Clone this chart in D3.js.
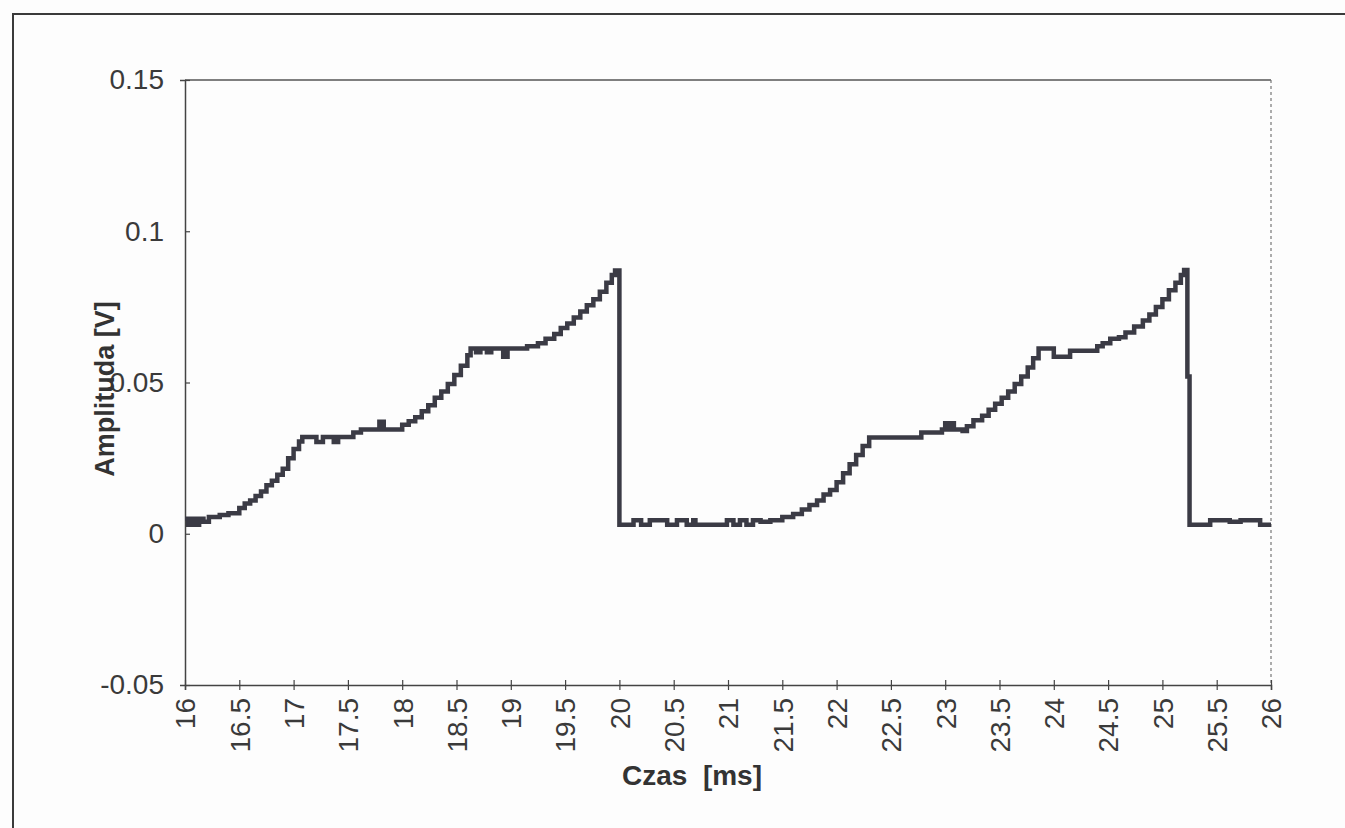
<!DOCTYPE html>
<html>
<head>
<meta charset="utf-8">
<script src="https://cdn.jsdelivr.net/npm/d3@7"></script>
<style>
  body { margin: 0; background: #fdfdfd; }
  svg { display: block; font-family: "Liberation Sans", Arial, sans-serif; }
</style>
</head>
<body>
<div id="chart"></div>
<script>
// czas [ms] i amplituda [V] (schodki przetwornika)
var timeMs = [
  16.00, 16.03, 16.06, 16.10, 16.13, 16.17, 16.22, 16.32, 16.40, 16.50,
  16.55, 16.60, 16.65, 16.70, 16.75, 16.80, 16.85, 16.90, 16.95, 17.00,
  17.05, 17.08, 17.21, 17.27, 17.37, 17.41, 17.55, 17.62, 17.79, 17.83,
  18.00, 18.06, 18.12, 18.18, 18.24, 18.30, 18.36, 18.42, 18.48, 18.54,
  18.60, 18.63, 18.68, 18.72, 18.78, 18.82, 18.93, 18.97, 19.15, 19.25,
  19.32, 19.40, 19.46, 19.52, 19.58, 19.64, 19.70, 19.76, 19.82, 19.88,
  19.93, 19.96, 20.00, 20.13, 20.20, 20.28, 20.44, 20.53, 20.62, 20.68,
  20.70, 20.99, 21.05, 21.11, 21.17, 21.23, 21.30, 21.39, 21.42, 21.50,
  21.60, 21.68, 21.75, 21.82, 21.88, 21.94, 22.00, 22.06, 22.12, 22.18,
  22.24, 22.30, 22.78, 22.97, 23.00, 23.02, 23.05, 23.08, 23.16, 23.20,
  23.26, 23.34, 23.40, 23.46, 23.52, 23.58, 23.64, 23.70, 23.76, 23.81,
  23.86, 24.00, 24.15, 24.40, 24.45, 24.52, 24.60, 24.66, 24.74, 24.82,
  24.88, 24.94, 25.00, 25.06, 25.12, 25.17, 25.20, 25.23, 25.25, 25.44,
  25.62, 25.72, 25.90, 26.00
];
var amplitudeV = [
  0.0050, 0.0030, 0.0050, 0.0030, 0.0050, 0.0040, 0.0055, 0.0062, 0.0068, 0.0085,
  0.0100, 0.0110, 0.0125, 0.0140, 0.0160, 0.0175, 0.0195, 0.0215, 0.0250, 0.0280,
  0.0305, 0.0320, 0.0303, 0.0320, 0.0303, 0.0320, 0.0335, 0.0345, 0.0370, 0.0345,
  0.0360, 0.0372, 0.0385, 0.0405, 0.0425, 0.0450, 0.0470, 0.0495, 0.0525, 0.0555,
  0.0590, 0.0612, 0.0600, 0.0612, 0.0600, 0.0612, 0.0585, 0.0612, 0.0620, 0.0630,
  0.0645, 0.0660, 0.0680, 0.0695, 0.0715, 0.0735, 0.0755, 0.0775, 0.0800, 0.0830,
  0.0855, 0.0870, 0.0030, 0.0045, 0.0030, 0.0045, 0.0030, 0.0045, 0.0030, 0.0045,
  0.0030, 0.0045, 0.0030, 0.0045, 0.0030, 0.0045, 0.0040, 0.0045, 0.0045, 0.0055,
  0.0065, 0.0080, 0.0095, 0.0110, 0.0130, 0.0145, 0.0170, 0.0200, 0.0230, 0.0260,
  0.0290, 0.0318, 0.0335, 0.0345, 0.0365, 0.0345, 0.0365, 0.0345, 0.0340, 0.0355,
  0.0375, 0.0390, 0.0410, 0.0430, 0.0450, 0.0470, 0.0495, 0.0520, 0.0550, 0.0580,
  0.0612, 0.0585, 0.0605, 0.0620, 0.0630, 0.0645, 0.0650, 0.0665, 0.0685, 0.0705,
  0.0725, 0.0750, 0.0775, 0.0805, 0.0830, 0.0855, 0.0872, 0.0520, 0.0030, 0.0045,
  0.0040, 0.0045, 0.0030, 0.0030
];
var xTicks = [16, 16.5, 17, 17.5, 18, 18.5, 19, 19.5, 20, 20.5, 21, 21.5, 22, 22.5, 23, 23.5, 24, 24.5, 25, 25.5, 26];
var yTicks = [-0.05, 0, 0.05, 0.1, 0.15];

var W = 1345, H = 828;
var margin = { left: 185, right: W - 1271, top: 80, bottom: H - 685 };
var tickFont = 28;

var svg = d3.select("#chart").append("svg")
    .attr("width", W).attr("height", H);

// ramka zewnetrzna
svg.append("rect")
    .attr("x", 13).attr("y", 14)
    .attr("width", W).attr("height", H)
    .attr("fill", "none").attr("stroke", "#3a3a3a").attr("stroke-width", 2);

var x = d3.scaleLinear().domain([16, 26]).range([margin.left, W - margin.right]);
var y = d3.scaleLinear().domain([-0.05, 0.15]).range([H - margin.bottom, margin.top]);

// obszar wykresu: gorna krawedz i prawa (przerywana)
svg.append("line")
    .attr("x1", x(16)).attr("x2", x(26)).attr("y1", y(0.15)).attr("y2", y(0.15))
    .attr("stroke", "#555").attr("stroke-width", 1.5);
svg.append("line")
    .attr("x1", x(26)).attr("x2", x(26)).attr("y1", y(0.15)).attr("y2", y(-0.05))
    .attr("stroke", "#777").attr("stroke-width", 1.2).attr("stroke-dasharray", "3,3");

// os Y z krzyzykami
var yAxis = svg.append("g")
    .attr("transform", "translate(" + x(16) + ",0)")
    .call(d3.axisLeft(y).tickValues(yTicks).tickSize(5).tickPadding(16)
      .tickFormat(function(d) { return String(+d.toFixed(2)); }));
yAxis.selectAll(".tick line").attr("x2", 5);
yAxis.select(".domain").attr("stroke", "#444").attr("stroke-width", 1.5);
yAxis.selectAll(".tick line").attr("stroke", "#444").attr("stroke-width", 1.2);
yAxis.selectAll(".tick text")
    .attr("font-size", tickFont).attr("fill", "#3a3a3a")
    .attr("font-family", "Liberation Sans, Arial, sans-serif");

// os X z krzyzykami
var xAxis = svg.append("g")
    .attr("transform", "translate(0," + y(-0.05) + ")")
    .call(d3.axisBottom(x).tickValues(xTicks).tickSize(5).tickFormat(d3.format("")));
xAxis.selectAll(".tick line").attr("y1", -5);
xAxis.select(".domain").attr("stroke", "#444").attr("stroke-width", 1.5);
xAxis.selectAll(".tick line").attr("stroke", "#444").attr("stroke-width", 1.2);
xAxis.selectAll(".tick text")
    .attr("font-size", tickFont).attr("fill", "#3a3a3a")
    .attr("font-family", "Liberation Sans, Arial, sans-serif")
    .attr("transform", "rotate(-90)")
    .attr("text-anchor", "end")
    .attr("x", -13).attr("y", 0).attr("dy", "0.35em");

// sygnal
var pts = timeMs.map(function(t, i) { return [t, amplitudeV[i]]; });
var line = d3.line()
    .x(function(d) { return x(d[0]); })
    .y(function(d) { return y(d[1]); })
    .curve(d3.curveStepAfter);
svg.append("path")
    .datum(pts)
    .attr("d", line)
    .attr("fill", "none")
    .attr("stroke", "#3b3b45")
    .attr("stroke-width", 4.5)
    .attr("stroke-linejoin", "miter");

// opisy osi
svg.append("text")
    .attr("transform", "translate(114,389) rotate(-90)")
    .attr("text-anchor", "middle")
    .attr("font-size", 27).attr("font-weight", "bold").attr("fill", "#333")
    .text("Amplituda [V]");

svg.append("text")
    .attr("x", 692).attr("y", 785)
    .attr("text-anchor", "middle")
    .attr("font-size", 28).attr("font-weight", "bold").attr("fill", "#333")
    .style("white-space", "pre")
    .text("Czas  [ms]");
</script>
</body>
</html>
